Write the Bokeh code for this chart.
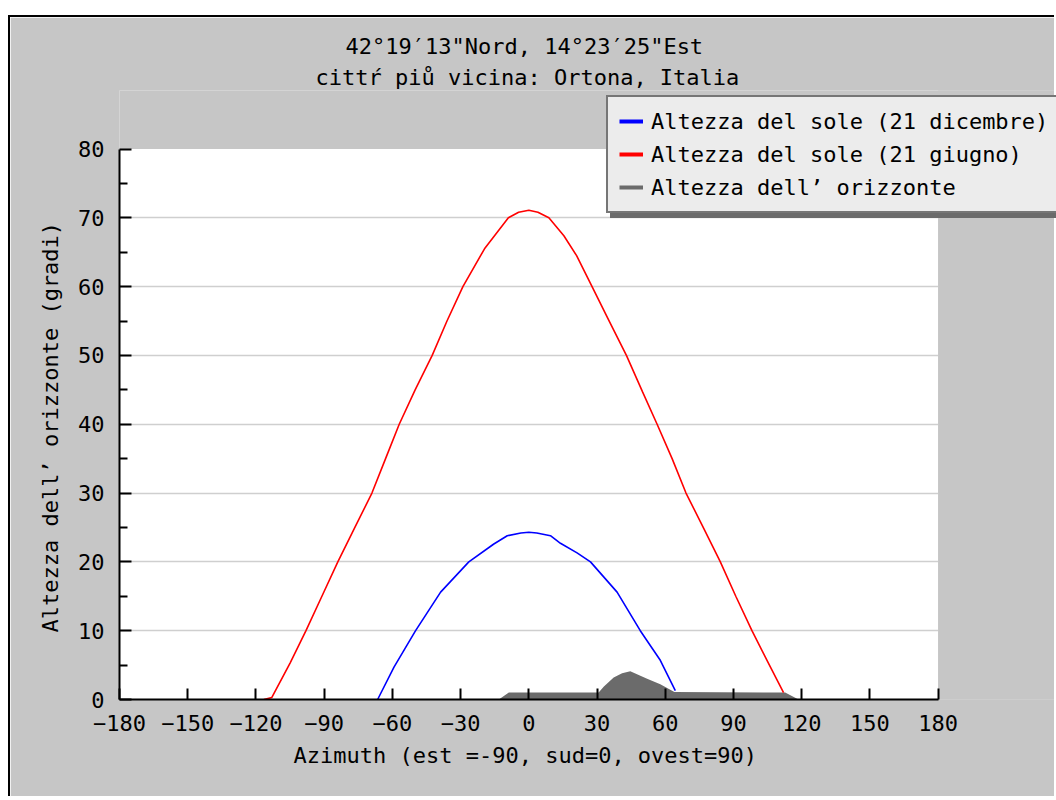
from bokeh.plotting import figure
from bokeh.models import FixedTicker, Legend, LegendItem, Title, BoxAnnotation, Range1d
from bokeh.embed import file_html
from bokeh.resources import INLINE

# ---------------- data ----------------
title_line1 = "42°19′13\"Nord, 14°23′25\"Est"
title_line2 = "cittŕ piů vicina: Ortona, Italia"
x_label = "Azimuth (est =-90, sud=0, ovest=90)"
y_label = "Altezza dell’ orizzonte (gradi)"
series_names = ["Altezza del sole (21 dicembre)",
                "Altezza del sole (21 giugno)",
                "Altezza dell’ orizzonte"]

x_ticks = [-180, -150, -120, -90, -60, -30, 0, 30, 60, 90, 120, 150, 180]
x_tick_labels = ["−180", "−150", "−120", "−90", "−60", "−30", "0",
                 "30", "60", "90", "120", "150", "180"]
y_ticks = [0, 10, 20, 30, 40, 50, 60, 70, 80]
y_tick_labels = ["0", "10", "20", "30", "40", "50", "60", "70", "80"]
y_minor_ticks = [5, 15, 25, 35, 45, 55, 65, 75]

# sun altitude, 21 December
dec_az = [-66.5, -59.3, -49.8, -38.8, -26.4, -15.4, -9.5, -3.5, 0.0, 3.5,
          9.5, 13.9, 21.2, 27.1, 38.8, 49.0, 57.8, 64.4]
dec_alt = [0.0, 4.7, 10.0, 15.6, 20.0, 22.6, 23.8, 24.2, 24.3, 24.2,
           23.8, 22.7, 21.3, 20.0, 15.6, 10.0, 5.7, 1.3]

# sun altitude, 21 June
jun_az = [-116.5, -113.0, -105.0, -98.0, -91.0, -84.0, -76.5, -69.0, -63.0,
          -57.0, -50.0, -42.5, -36.0, -29.0, -19.5, -9.0, -4.5, 0.0, 4.0,
          8.8, 15.4, 21.0, 27.8, 35.0, 42.9, 50.0, 56.4, 63.0, 69.1, 77.0,
          84.2, 91.0, 98.1, 105.0, 112.0]
jun_alt = [0.0, 0.3, 5.3, 10.0, 15.0, 20.0, 25.0, 30.0, 35.0,
           40.0, 45.0, 50.0, 55.0, 60.0, 65.5, 70.0, 70.8, 71.1, 70.8,
           70.0, 67.4, 64.5, 60.0, 55.2, 50.0, 44.7, 40.0, 35.0, 30.0, 24.8,
           20.0, 15.0, 10.0, 5.5, 1.0]

# horizon altitude
hor_az = [-13.2, -8.8, 30.7, 33.0, 37.3, 41.0, 44.6, 52.0, 57.8, 64.0, 112.7, 118.6]
hor_alt = [0.0, 1.0, 1.0, 1.9, 3.2, 3.8, 4.1, 3.0, 2.2, 1.1, 1.0, 0.0]

X_MIN, X_MAX = -180, 180
Y_MIN, Y_MAX = 0, 80

# ---------------- layout (page pixels) ----------------
PX, PY = 8, 15             # figure element position on the page (via margin)
BORDER = 2
CX, CY = PX + BORDER, PY + BORDER   # canvas origin on the page
W, H = 1046, 781           # canvas size
PLOT_L, PLOT_R = 119, 937.7   # x of -180 / 180
PLOT_T, PLOT_B = 148.5, 699   # y of 80 / 0
FRAME_T = 90                  # frame extends above the white area (for legend)
FRAME_R = CX + W              # frame extends to the right edge
TITLE1_X, TITLE2_X = 345, 315 # left edge of the two title lines
XLABEL_X = 293                # left edge of the x axis label
YLABEL_Y = 632                # lower end of the y axis label

xscale = (PLOT_R - PLOT_L) / (X_MAX - X_MIN)
yscale = (PLOT_B - PLOT_T) / (Y_MAX - Y_MIN)
x_end = X_MIN + (FRAME_R - PLOT_L) / xscale
y_end = Y_MIN + (PLOT_B - FRAME_T) / yscale

FONT = "DejaVu Sans Mono"
FS = "22px"
BG = "#c6c6c6"
HOR = "#6b6b6b"

p = figure(width=W, height=H, x_range=Range1d(X_MIN, x_end), y_range=Range1d(Y_MIN, y_end),
           output_backend="svg", toolbar_location=None, title=title_line1,
           min_border_left=PLOT_L - CX, min_border_right=0,
           min_border_top=FRAME_T - CY, min_border_bottom=CY + H - PLOT_B)
p.margin = (PY, 0, 0, PX)
p.styles = {"border-left": "2px solid black", "border-top": "2px solid black"}
p.background_fill_color = BG
p.border_fill_color = BG
p.outline_line_color = None

def make_title(text, offset, standoff):
    return Title(text=text, align="left", offset=offset, text_font=FONT,
                 text_font_size=FS, text_font_style="normal", text_color="black",
                 standoff=standoff)

p.title.align = "left"
p.title.offset = TITLE1_X - PLOT_L
p.title.text_font = FONT
p.title.text_font_size = FS
p.title.text_font_style = "normal"
p.title.text_color = "black"
p.title.standoff = 5
p.add_layout(make_title(title_line2, TITLE2_X - PLOT_L, 2), "above")

# axes
for ax in (p.xaxis, p.yaxis):
    ax.axis_line_color = "black"
    ax.axis_line_width = 2
    ax.major_tick_line_color = "black"
    ax.major_tick_line_width = 2
    ax.major_tick_out = 0
    ax.major_label_text_font = FONT
    ax.major_label_text_font_size = FS
    ax.major_label_text_color = "black"

p.xaxis.bounds = (X_MIN, X_MAX)
p.xaxis.ticker = FixedTicker(ticks=x_ticks)
p.xaxis.major_label_overrides = dict(zip(x_ticks, x_tick_labels))
p.xaxis.major_tick_in = 11
p.xaxis.minor_tick_line_color = None
p.xaxis.major_label_standoff = 15

p.yaxis.bounds = (Y_MIN, Y_MAX)
p.yaxis.ticker = FixedTicker(ticks=y_ticks, minor_ticks=y_minor_ticks)
p.yaxis.major_label_overrides = dict(zip(y_ticks, y_tick_labels))
p.yaxis.major_tick_in = 12
p.yaxis.minor_tick_in = 8
p.yaxis.minor_tick_out = 0
p.yaxis.minor_tick_line_color = "black"
p.yaxis.minor_tick_line_width = 2
p.yaxis.major_label_standoff = 15

# axis titles (as panel titles so they can be aligned with the white plotting area)
p.add_layout(make_title(x_label, XLABEL_X - PLOT_L, 15), "below")
p.add_layout(make_title(y_label, PLOT_B - YLABEL_Y, 25), "left")

p.xgrid.visible = False
p.ygrid.ticker = FixedTicker(ticks=y_ticks[1:-1])
p.ygrid.grid_line_color = "#cfcfcf"
p.ygrid.grid_line_width = 1.5

# white plotting area (below the grid) inside the enlarged grey frame
plot_area = BoxAnnotation(left=X_MIN, right=X_MAX, bottom=Y_MIN, top=Y_MAX,
                          fill_color="white", fill_alpha=1, line_color=None, level="underlay")
p.center = [plot_area] + list(p.center)
# grey cover for grid lines right of the plotting area
p.add_layout(BoxAnnotation(left=X_MAX, right=x_end + 20, bottom=Y_MIN - 20, top=y_end + 20,
                           fill_color=BG, fill_alpha=1, line_color=None, level="underlay"))

# data renderers
p.varea(x=hor_az, y1=[0] * len(hor_az), y2=hor_alt, fill_color=HOR)
p.line(jun_az, jun_alt, line_color="#ff0000", line_width=1.6)
p.line(dec_az, dec_alt, line_color="#0000ff", line_width=1.6)

# legend proxies (hidden copies with thicker lines for the legend glyphs)
lg_dec = p.line(dec_az, dec_alt, line_color="#0000ff", line_width=4, visible=False)
lg_jun = p.line(jun_az, jun_alt, line_color="#ff0000", line_width=4, visible=False)
lg_hor = p.line(hor_az, hor_alt, line_color=HOR, line_width=4, visible=False)
proxies = [lg_dec, lg_jun, lg_hor]

def style_legend(lg):
    lg.label_text_font = FONT
    lg.label_text_font_size = FS
    lg.glyph_width = 24
    lg.label_standoff = 8
    lg.label_width = 420
    lg.padding = 11
    lg.spacing = 7
    lg.margin = 0
    lg.label_height = 26
    lg.inactive_fill_alpha = 0
    lg.click_policy = "none"

LEG_L, LEG_B = 606, 213
# drop shadow: same box size, blank labels
shadow = Legend(items=[LegendItem(label=" ", renderers=[r]) for r in proxies],
                location=(LEG_L - PLOT_L + 4, PLOT_B - LEG_B - 5))
style_legend(shadow)
shadow.background_fill_color = HOR
shadow.background_fill_alpha = 1
shadow.border_line_color = None
p.add_layout(shadow, "center")

legend = Legend(items=[LegendItem(label=n, renderers=[r]) for n, r in zip(series_names, proxies)],
                location=(LEG_L - PLOT_L, PLOT_B - LEG_B))
style_legend(legend)
legend.background_fill_color = "#ececec"
legend.background_fill_alpha = 1
legend.border_line_color = "black"
legend.border_line_width = 2
legend.label_text_color = "black"
p.add_layout(legend, "center")

open("out.html", "w").write(file_html(p, INLINE))
